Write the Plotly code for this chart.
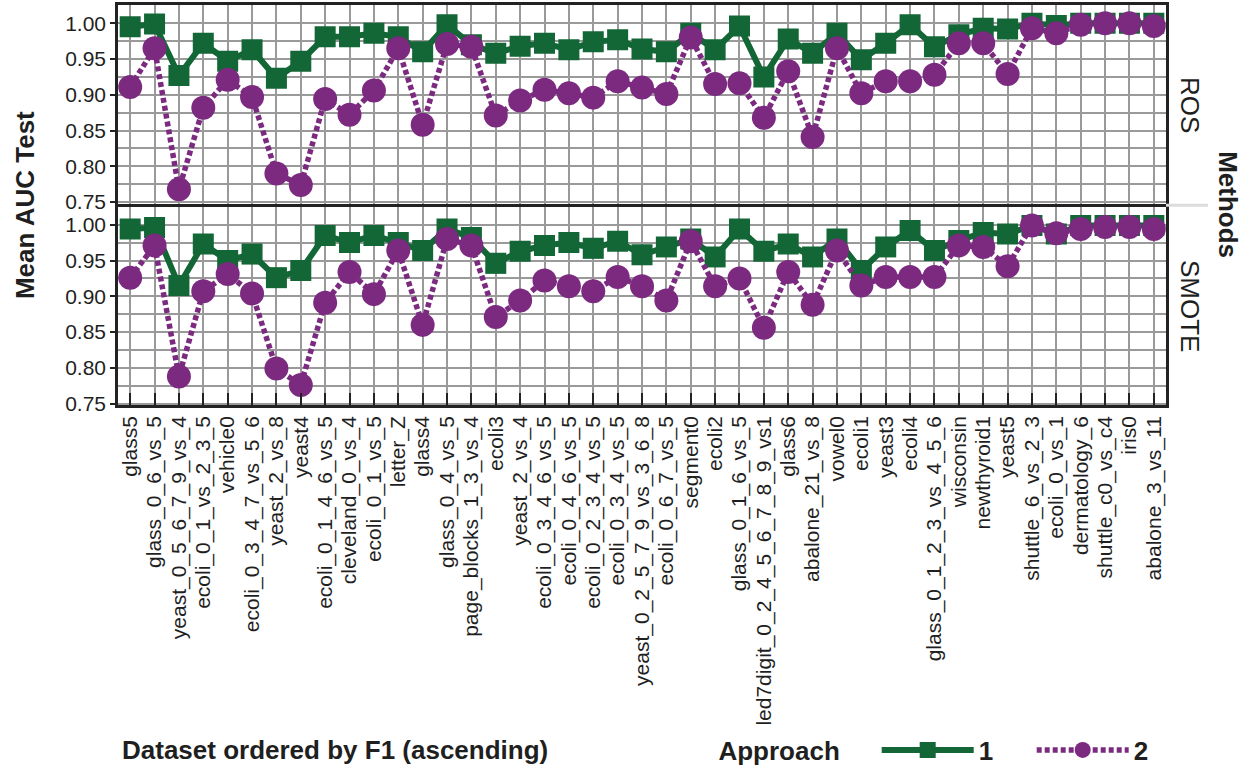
import plotly.graph_objects as go
from plotly.subplots import make_subplots

datasets = [
    "glass5", "glass_0_6_vs_5", "yeast_0_5_6_7_9_vs_4", "ecoli_0_1_vs_2_3_5", "vehicle0",
    "ecoli_0_3_4_7_vs_5_6", "yeast_2_vs_8", "yeast4", "ecoli_0_1_4_6_vs_5", "cleveland_0_vs_4",
    "ecoli_0_1_vs_5", "letter_Z", "glass4", "glass_0_4_vs_5", "page_blocks_1_3_vs_4",
    "ecoli3", "yeast_2_vs_4", "ecoli_0_3_4_6_vs_5", "ecoli_0_4_6_vs_5", "ecoli_0_2_3_4_vs_5",
    "ecoli_0_3_4_vs_5", "yeast_0_2_5_7_9_vs_3_6_8", "ecoli_0_6_7_vs_5", "segment0", "ecoli2",
    "glass_0_1_6_vs_5", "led7digit_0_2_4_5_6_7_8_9_vs1", "glass6", "abalone_21_vs_8", "vowel0",
    "ecoli1", "yeast3", "ecoli4", "glass_0_1_2_3_vs_4_5_6", "wisconsin",
    "newthyroid1", "yeast5", "shuttle_6_vs_2_3", "ecoli_0_vs_1", "dermatology_6",
    "shuttle_c0_vs_c4", "iris0", "abalone_3_vs_11",
]

ros_approach1 = [
    0.995, 0.999, 0.927, 0.972, 0.947, 0.963, 0.923, 0.947, 0.981, 0.981,
    0.986, 0.981, 0.960, 0.998, 0.970, 0.958, 0.968, 0.972, 0.963, 0.974,
    0.977, 0.964, 0.960, 0.986, 0.963, 0.996, 0.925, 0.978, 0.958, 0.986,
    0.949, 0.972, 0.998, 0.967, 0.984, 0.993, 0.992, 1.000, 0.997, 1.000,
    1.000, 1.000, 1.000,
]
ros_approach2 = [
    0.911, 0.965, 0.768, 0.882, 0.921, 0.897, 0.790, 0.774, 0.894, 0.872,
    0.906, 0.965, 0.858, 0.971, 0.967, 0.871, 0.892, 0.907, 0.902, 0.896,
    0.919, 0.910, 0.901, 0.980, 0.915, 0.916, 0.868, 0.933, 0.841, 0.965,
    0.902, 0.919, 0.919, 0.928, 0.972, 0.972, 0.929, 0.993, 0.986, 0.998,
    1.000, 1.000, 0.996,
]
smote_approach1 = [
    0.994, 0.996, 0.915, 0.973, 0.950, 0.959, 0.926, 0.936, 0.985, 0.975,
    0.985, 0.975, 0.964, 0.994, 0.982, 0.946, 0.963, 0.971, 0.975, 0.967,
    0.977, 0.958, 0.969, 0.980, 0.955, 0.994, 0.963, 0.973, 0.955, 0.980,
    0.936, 0.969, 0.992, 0.964, 0.978, 0.989, 0.987, 0.999, 0.987, 0.999,
    0.999, 0.999, 0.999,
]
smote_approach2 = [
    0.926, 0.971, 0.788, 0.907, 0.931, 0.904, 0.799, 0.776, 0.891, 0.934,
    0.903, 0.964, 0.860, 0.980, 0.971, 0.871, 0.894, 0.922, 0.914, 0.907,
    0.927, 0.914, 0.894, 0.977, 0.914, 0.925, 0.856, 0.934, 0.888, 0.964,
    0.915, 0.927, 0.927, 0.927, 0.971, 0.969, 0.942, 0.999, 0.988, 0.994,
    0.997, 0.997, 0.994,
]

methods = ["ROS", "SMOTE"]
approaches = ["1", "2"]

GREEN = "#136635"
PURPLE = "#7B2A80"
TXT = "#1f1f1f"
FONT = "Liberation Sans, Arial, sans-serif"

fig = make_subplots(rows=2, cols=1, shared_xaxes=True, vertical_spacing=0.0075)

series = {
    ("ROS", "1"): ros_approach1,
    ("ROS", "2"): ros_approach2,
    ("SMOTE", "1"): smote_approach1,
    ("SMOTE", "2"): smote_approach2,
}

for r, m in enumerate(methods, start=1):
    for a in approaches:
        vals = series[(m, a)]
        if a == "1":
            line = dict(color=GREEN, width=6)
            marker = dict(symbol="square", size=21, color=GREEN)
        else:
            line = dict(color=PURPLE, width=5.5, dash="5px,3px")
            marker = dict(symbol="circle", size=24, color=PURPLE)
        fig.add_trace(
            go.Scatter(
                x=datasets, y=vals, mode="lines+markers", name=a,
                line=line, marker=marker, legendgroup=a, showlegend=(r == 1),
            ),
            row=r, col=1,
        )

grid = "#9a9a9a"
for r in (1, 2):
    fig.update_yaxes(
        range=[0.748, 1.0255], dtick=0.05, tick0=0.75, tickformat=".2f",
        showgrid=True, gridcolor=grid, gridwidth=1.6,
        minor=dict(dtick=0.025, tick0=0.75, showgrid=True, gridcolor=grid, gridwidth=1.6),
        showline=True, mirror=True, linecolor="#222", linewidth=2.5,
        ticks="outside", ticklen=5, tickwidth=1.5, tickcolor="#222",
        tickfont=dict(family=FONT, size=21, color=TXT), zeroline=False,
        automargin=False, row=r, col=1,
    )
    fig.update_xaxes(
        showgrid=True, gridcolor=grid, gridwidth=1.6,
        showline=True, mirror=True, linecolor="#222", linewidth=2.5,
        range=[-0.5, len(datasets) - 0.5], zeroline=False,
        tickmode="array", tickvals=datasets, ticktext=datasets,
        automargin=False, row=r, col=1,
    )

fig.update_xaxes(ticks="", showticklabels=False, row=1, col=1)
fig.update_xaxes(
    ticks="inside", ticklen=12, tickwidth=2, tickcolor="#222",
    tickangle=-90, tickfont=dict(family=FONT, size=21, color=TXT),
    showticklabels=True, row=2, col=1,
)

ann_font = dict(family=FONT, color=TXT)
annotations = [
    dict(text="ROS", x=1.0229, y=0.75, textangle=90,
         font=dict(size=26, **ann_font)),
    dict(text="SMOTE", x=1.0229, y=0.2475, textangle=90,
         font=dict(size=26, **ann_font)),
    dict(text="<b>Methods</b>", x=1.059, y=0.5, textangle=90,
         font=dict(size=26, **ann_font)),
    dict(text="<b>Mean AUC Test</b>", x=-0.0887, y=0.5, textangle=-90,
         font=dict(size=26, **ann_font)),
    dict(text="<b>Dataset ordered by F1 (ascending)</b>", x=0.207, y=-0.8625,
         font=dict(size=26, **ann_font)),
]
for a in annotations:
    a.update(xref="paper", yref="paper", showarrow=False, xanchor="center", yanchor="middle")

fig.update_layout(
    width=1251, height=769,
    margin=dict(l=118, r=85, t=5, b=364, autoexpand=False),
    plot_bgcolor="white", paper_bgcolor="white",
    annotations=annotations,
    shapes=[dict(type="line", xref="paper", yref="paper", x0=1.0, x1=1.04,
                 y0=0.4995, y1=0.4995, line=dict(color="#dcdcdc", width=3))],
    legend=dict(
        orientation="h", xref="container", yref="container",
        x=0.5727, y=1 - 750 / 769, xanchor="left", yanchor="middle",
        title=dict(text="<b>Approach</b>    ", font=dict(family=FONT, size=26, color=TXT)),
        font=dict(family=FONT, size=26, color=TXT, weight="bold"),
        itemwidth=92, entrywidth=48, bgcolor="rgba(0,0,0,0)",
    ),
    font=dict(family=FONT, color=TXT),
)

fig.write_html("out.html", config={"displayModeBar": False},
               post_script="document.body.style.margin='0';")
